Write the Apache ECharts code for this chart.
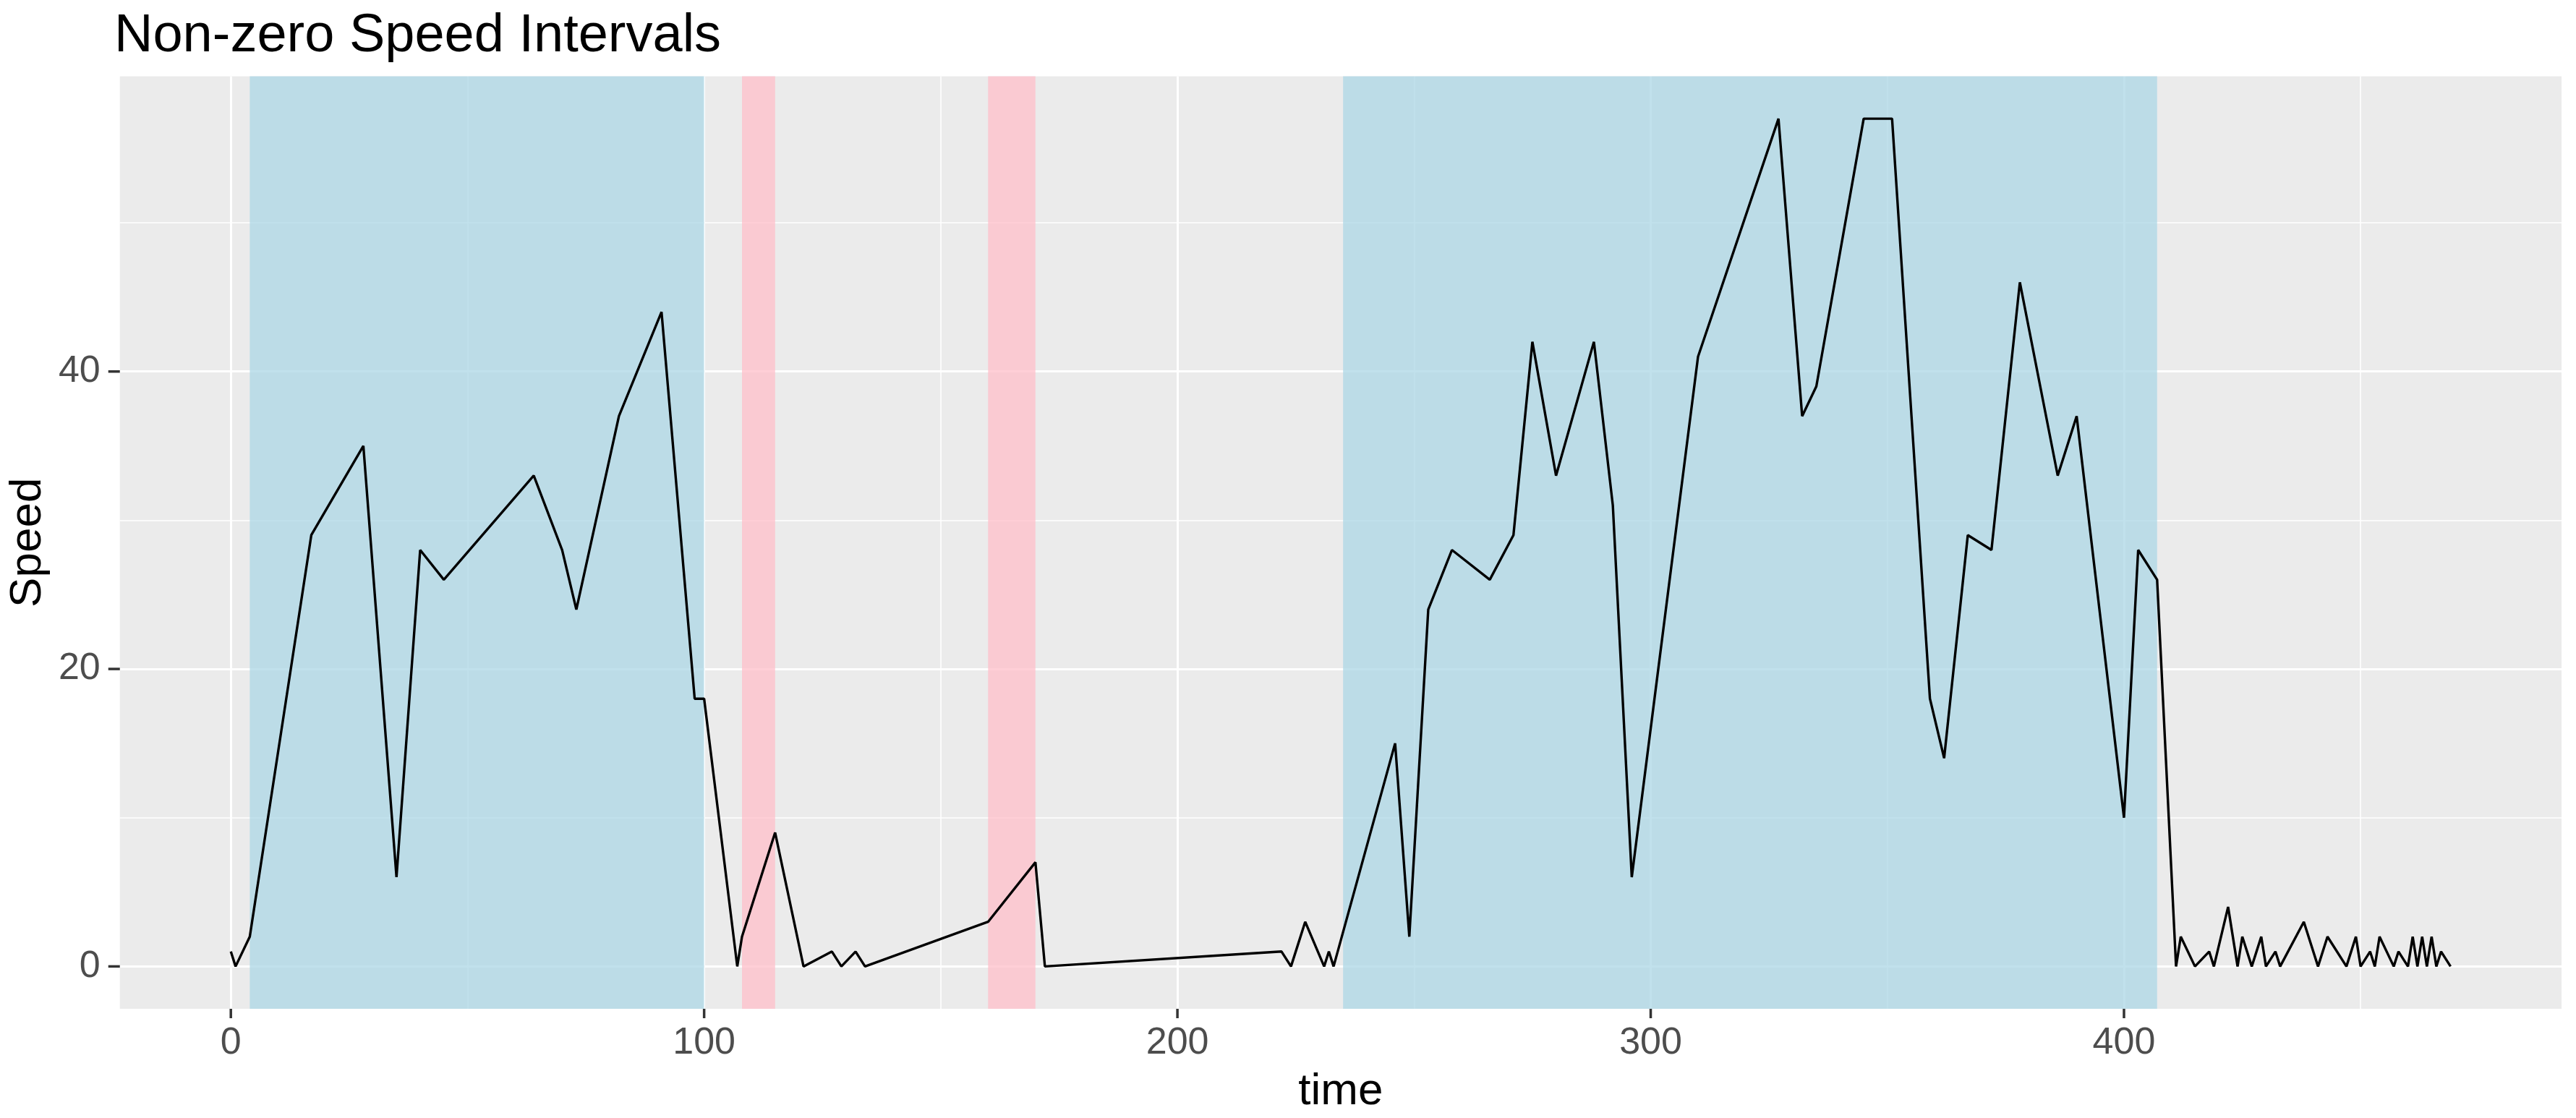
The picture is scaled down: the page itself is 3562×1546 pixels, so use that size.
<!DOCTYPE html>
<html>
<head>
<meta charset="utf-8">
<title>Non-zero Speed Intervals</title>
<script src="https://cdn.jsdelivr.net/npm/echarts@6/dist/echarts.min.js"></script>
<style>
  html, body { margin: 0; padding: 0; background: #ffffff; }
  #chart { width: 3562px; height: 1546px; }
</style>
</head>
<body>
<div id="chart"></div>
<script>
// time / speed samples
const times = [0, 1, 4, 17, 28, 35, 40, 45, 64, 70, 73, 82, 91, 98, 100, 107, 108, 115, 121, 127,
  129, 132, 134, 160, 170, 172, 222, 224, 227, 231, 232, 233, 246, 249, 253, 258, 266, 271, 275, 280,
  288, 292, 296, 310, 327, 332, 335, 345, 351, 359, 362, 367, 372, 378, 386, 390, 400, 403, 407, 411,
  412, 415, 418, 419, 422, 424, 425, 427, 429, 430, 432, 433, 438, 441, 443, 447, 449, 450, 452, 453,
  454, 457, 458, 460, 461, 462, 463, 464, 465, 466, 467, 469]
const speeds = [1, 0, 2, 29, 35, 6, 28, 26, 33, 28, 24, 37, 44, 18, 18, 0, 2, 9, 0, 1,
  0, 1, 0, 3, 7, 0, 1, 0, 3, 0, 1, 0, 15, 2, 24, 28, 26, 29, 42, 33,
  42, 31, 6, 41, 57, 37, 39, 57, 57, 18, 14, 29, 28, 46, 33, 37, 10, 28, 26, 0,
  2, 0, 1, 0, 4, 0, 2, 0, 2, 0, 1, 0, 3, 0, 2, 0, 2, 0, 1, 0,
  2, 0, 1, 0, 2, 0, 2, 0, 2, 0, 1, 0]

// shaded intervals [start, end]
const blueIntervals = [[4, 100], [235, 407]]
const pinkIntervals = [[108, 115], [160, 170]]

// axis ticks
const xTicks = [0, 100, 200, 300, 400]
const xMinorTicks = [50, 150, 250, 350, 450]
const yTicks = [0, 20, 40]
const yMinorTicks = [10, 30, 50]

const X_MIN = -23.45, X_MAX = 492.45
const Y_MIN = -2.85, Y_MAX = 59.85

const FONT = '"Liberation Sans", Arial, sans-serif'
const TICK = '#333333'
const LABEL = { fontFamily: FONT, fontSize: 52, color: '#4D4D4D' }

const chart = echarts.init(document.getElementById('chart'), null, { renderer: 'canvas' })

function toAreas(list, color) {
  return list.map(([a, b]) => [
    { xAxis: a, itemStyle: { color } },
    { xAxis: b }
  ])
}

// minor grid as mark lines (major grid comes from the axes)
const minorGrid = xMinorTicks.map(v => ({ xAxis: v }))
  .concat(yMinorTicks.map(v => ({ yAxis: v })))

// tick marks outside the panel, placed through the axis scales
function tickSeries(values, vertical) {
  return {
    type: 'custom',
    z: 4,
    silent: true,
    clip: false,
    data: values.map(v => vertical ? [v, Y_MIN] : [X_MIN, v]),
    renderItem: (params, api) => {
      const p = api.coord([api.value(0), api.value(1)])
      const shape = vertical
        ? { x1: p[0], y1: p[1], x2: p[0], y2: p[1] + 13 }
        : { x1: p[0] - 16, y1: p[1], x2: p[0], y2: p[1] }
      return { type: 'line', shape, style: { stroke: TICK, lineWidth: 3.5 } }
    }
  }
}

chart.setOption({
  animation: false,
  backgroundColor: '#ffffff',
  title: {
    text: 'Non-zero Speed Intervals',
    left: 158,
    top: 14,
    padding: 0,
    textStyle: { fontFamily: FONT, fontSize: 74, fontWeight: 'normal', color: '#000000' }
  },
  grid: {
    left: 159, right: 20, top: 105.5, bottom: 144.5,
    show: true, backgroundColor: '#EBEBEB', borderWidth: 0
  },
  xAxis: {
    type: 'value',
    min: X_MIN,
    max: X_MAX,
    name: 'time',
    nameLocation: 'middle',
    nameGap: 84,
    nameTextStyle: { fontFamily: FONT, fontSize: 62, color: '#000000' },
    axisLine: { show: false, onZero: false },
    axisTick: { show: false, customValues: xTicks },
    axisLabel: Object.assign({ customValues: xTicks, margin: 22 }, LABEL),
    splitLine: { show: true, lineStyle: { color: '#ffffff', width: 3 } }
  },
  yAxis: {
    type: 'value',
    min: Y_MIN,
    max: Y_MAX,
    name: 'Speed',
    nameLocation: 'middle',
    nameGap: 95,
    nameTextStyle: { fontFamily: FONT, fontSize: 62, color: '#000000' },
    axisLine: { show: false, onZero: false },
    axisTick: { show: false, customValues: yTicks },
    axisLabel: Object.assign({ customValues: yTicks, margin: 27 }, LABEL),
    splitLine: { show: true, lineStyle: { color: '#ffffff', width: 3 } }
  },
  series: [
    {
      name: 'minorGrid',
      type: 'line',
      z: 1,
      data: [],
      silent: true,
      markLine: {
        z: 1,
        silent: true,
        symbol: 'none',
        label: { show: false },
        lineStyle: { color: '#ffffff', width: 1.6, type: 'solid' },
        data: minorGrid
      }
    },
    {
      name: 'intervals',
      type: 'line',
      z: 2,
      data: [],
      silent: true,
      markArea: {
        z: 2,
        silent: true,
        data: toAreas(blueIntervals, 'rgba(173,216,230,0.76)')
          .concat(toAreas(pinkIntervals, 'rgba(255,192,203,0.76)'))
      }
    },
    {
      name: 'Speed',
      type: 'line',
      z: 3,
      showSymbol: false,
      symbol: 'none',
      lineStyle: { color: '#000000', width: 3.4 },
      data: times.map((t, i) => [t, speeds[i]])
    },
    tickSeries(xTicks, true),
    tickSeries(yTicks, false)
  ]
})
</script>
</body>
</html>
